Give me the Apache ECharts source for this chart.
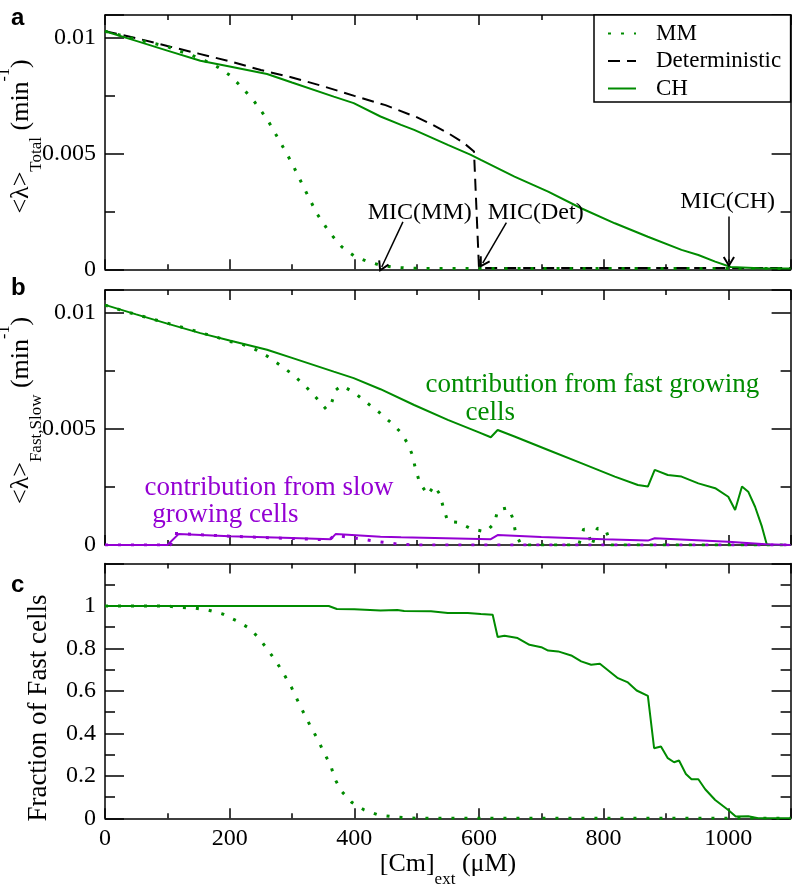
<!DOCTYPE html>
<html><head><meta charset="utf-8">
<script src="https://cdn.jsdelivr.net/npm/echarts@6/dist/echarts.min.js"></script>
<style>html,body{margin:0;padding:0;background:#fff}#c{width:792px;height:885px}</style>
</head><body><div id="c"></div>
<script>
// ---------------- DATA ----------------
// Panel a: mean growth rate (total)
const mmTotX = [0,20,40,60,80,100,120,140,160,180,200,220,240,260,280,300,320,340,360,380,400,420,440,460,480,500,600,700,800,900,1000,1100];
const mmTotY = [0.0103,0.01016,0.01002,0.00988,0.00976,0.00963,0.00943,0.00925,0.00903,0.00876,0.0084,0.00786,0.00724,0.0065,0.00556,0.00459,0.00348,0.00241,0.0016,0.00097,0.00057,0.00035,0.00019,0.0001,0.00006,0.00004,0.00003,0.00003,0.00003,0.00003,0.00003,0.00003];
const detX = [0,50,100,150,200,250,300,350,400,450,500,525,550,575,592,600,610,700,800,900,1000,1100];
const detY = [0.0103,0.01,0.00966,0.00933,0.009,0.00862,0.0083,0.00792,0.0075,0.0071,0.00658,0.00626,0.0059,0.00548,0.0051,0.00008,0.00006,0.00006,0.00006,0.00006,0.00006,0.00006];
const chTotX = [0,50,100,153,200,260,300,367,399,442,475,496,550,587,603,657,711,764,818,871,925,952,979,1004,1050,1100];
const chTotY = [0.0103,0.00988,0.00946,0.00902,0.00877,0.00845,0.00808,0.00747,0.00719,0.00661,0.00625,0.00603,0.00538,0.00495,0.00473,0.00401,0.00336,0.00264,0.00199,0.00141,0.00084,0.00062,0.00033,0.0001,0.00005,0.00004];
// Panel b: contributions from fast / slow growing cells
const chFastX = [0,50,100,153,200,260,300,367,399,442,496,550,600,619,630,657,684,711,764,818,855,871,882,903,925,952,979,1000,1011,1022,1032,1043,1054,1062,1100];
const chFastY = [0.01036,0.00995,0.00955,0.00914,0.00882,0.00842,0.00807,0.00748,0.0072,0.00672,0.00604,0.0054,0.00486,0.00465,0.00496,0.00468,0.00439,0.0041,0.00353,0.00295,0.00259,0.00252,0.00324,0.00302,0.00295,0.00266,0.00245,0.00208,0.00151,0.00252,0.0023,0.00165,0.00079,0,0];
const mmFastX = [0,20,40,60,80,100,120,140,160,180,200,220,240,260,280,300,320,340,355,362,370,380,400,420,440,460,475,485,493,498,505,518,528,537,543,550,567,588,611,625,630,647,655,659,668,760,768,775,781,790,804,812,1100];
const mmFastY = [0.01035,0.01018,0.01002,0.00987,0.00972,0.00957,0.00942,0.00927,0.00911,0.00896,0.00878,0.00866,0.00845,0.00815,0.00778,0.00738,0.0069,0.00632,0.00585,0.006,0.00668,0.00688,0.00657,0.00614,0.00572,0.00525,0.00485,0.0044,0.0039,0.0033,0.00268,0.00216,0.00256,0.0022,0.0016,0.00101,0.00098,0.00069,0.00057,0.00094,0.00151,0.00161,0.00111,0.00047,0,0,0.00069,0.00057,-0.00005,0.00072,0.00062,0,0];
const chSlowX = [0,100,118,200,300,362,370,442,475,619,630,700,800,871,882,1000,1060,1100];
const chSlowY = [0,0,0.00047,0.00038,0.0003,0.00025,0.00047,0.00036,0.00033,0.00025,0.00043,0.00035,0.00025,0.00019,0.00029,0.00014,0.00003,0];
const mmSlowX = [0,105,112,200,300,360,368,400,440,470,500,1100];
const mmSlowY = [0,0,0.0005,0.00038,0.00028,0.00022,0.00042,0.0003,0.00014,0.00004,0,0];
// Panel c: fraction of fast cells
const mmFracX = [0,100,120,144,166,189,210,231,247,261,275,287,299,309,319,330,341,351,362,369,380,396,416,438,461,480,500,1100];
const mmFracY = [1,1,0.993,0.99,0.98,0.962,0.932,0.896,0.849,0.794,0.737,0.679,0.618,0.555,0.495,0.432,0.373,0.311,0.25,0.184,0.126,0.075,0.039,0.016,0.008,0.003,0,0];
const chFracX = [0,359,372,400,442,469,480,523,550,582,603,622,630,641,662,681,700,711,727,748,764,780,794,823,839,853,871,881,892,903,913,921,932,941,952,963,979,1000,1012,1032,1048,1100];
const chFracY = [1,1,0.986,0.985,0.979,0.981,0.976,0.975,0.967,0.967,0.962,0.959,0.854,0.86,0.849,0.817,0.806,0.79,0.786,0.767,0.739,0.723,0.728,0.66,0.64,0.602,0.577,0.33,0.338,0.283,0.264,0.272,0.209,0.184,0.184,0.137,0.086,0.039,0.008,0.01,0,0];
// axes
const xMax = 1100;
const yMaxRate = 0.011;
const yMaxFrac = 1.2;
// annotations [label, x, y]
const micLabels = [['MIC(MM)',505,0.00244],['MIC(Det)',691,0.00244],['MIC(CH)',999,0.00293]];
const micArrows = [[478,0.00205,444,0.0001],[644,0.00202,606,0.00027],[1001,0.00228,1001,0.00032]];
const fastText = [['contribution from fast growing',782,0.0069],['cells',618,0.0057]];
const slowText = [['contribution from slow',263,0.00246],['growing cells',193,0.0013]];

// ---------------- CHART ----------------
const GREEN = '#008b00', PURPLE = '#9400d3', BLACK = '#000';
const SERIF = '"Liberation Serif","Times New Roman",serif';
const SANS = '"Liberation Sans",Arial,sans-serif';
const DOT = [3, 10], DASH = [12, 7];
const chart = echarts.init(document.getElementById('c'));

const grids = [
  {left:105, top:15, width:685.6, height:254.3},
  {left:105, top:290, width:685.6, height:255},
  {left:105, top:563.5, width:685.6, height:254.8}
].map(g => Object.assign(g, {containLabel:false, outerBoundsMode:'none'}));

const lineSt = {color:BLACK, width:1.5};
const xAxis = [], yAxis = [];
for (let g = 0; g < 3; g++) {
  const bx = {gridIndex:g, type:'value', min:0, max:xMax, splitLine:{show:false}};
  xAxis.push(
    Object.assign({}, bx, {position:'bottom', interval:200,
      axisLine:{show:true,onZero:false,lineStyle:lineSt},
      axisTick:{show:true,inside:true,length:10,lineStyle:lineSt},
      axisLabel:{show:g===2, margin:8, color:BLACK, fontSize:24, fontFamily:SERIF,
        formatter: v => (v >= xMax ? '' : String(v))}}),
    Object.assign({}, bx, {position:'bottom', interval:100,
      axisLine:{show:false,onZero:false}, axisTick:{show:true,inside:true,length:5,lineStyle:lineSt}, axisLabel:{show:false}}),
    Object.assign({}, bx, {position:'top', interval:200,
      axisLine:{show:true,onZero:false,lineStyle:lineSt}, axisTick:{show:true,inside:true,length:10,lineStyle:lineSt}, axisLabel:{show:false}}),
    Object.assign({}, bx, {position:'top', interval:100,
      axisLine:{show:false,onZero:false}, axisTick:{show:true,inside:true,length:5,lineStyle:lineSt}, axisLabel:{show:false}})
  );
  const isFrac = g === 2;
  const ymax = isFrac ? yMaxFrac : yMaxRate;
  const major = isFrac ? 0.2 : 0.005, minor = isFrac ? 0.1 : 0.0025;
  const by = {gridIndex:g, type:'value', min:0, max:ymax, splitLine:{show:false}};
  const fmt = isFrac
    ? (v => (v > 1.05 ? '' : String(Math.round(v * 10) / 10)))
    : (v => (v > 0.0105 ? '' : String(Math.round(v * 1000) / 1000)));
  yAxis.push(
    Object.assign({}, by, {position:'left', interval:major,
      axisLine:{show:true,onZero:false,lineStyle:lineSt}, axisTick:{show:true,inside:true,length:19,lineStyle:lineSt},
      axisLabel:{show:true, margin:9, color:BLACK, fontSize:24, fontFamily:SERIF, formatter:fmt}}),
    Object.assign({}, by, {position:'left', interval:minor,
      axisLine:{show:false,onZero:false}, axisTick:{show:true,inside:true,length:10,lineStyle:lineSt}, axisLabel:{show:false}}),
    Object.assign({}, by, {position:'right', interval:major,
      axisLine:{show:true,onZero:false,lineStyle:lineSt}, axisTick:{show:true,inside:true,length:19,lineStyle:lineSt}, axisLabel:{show:false}}),
    Object.assign({}, by, {position:'right', interval:minor,
      axisLine:{show:false,onZero:false}, axisTick:{show:true,inside:true,length:10,lineStyle:lineSt}, axisLabel:{show:false}})
  );
}

function pairs(xs, ys) { return xs.map((x, i) => [x, ys[i]]); }
function line(name, xs, ys, g, color, type, width, z) {
  return {type:'line', name, xAxisIndex:g*4, yAxisIndex:g*4, data:pairs(xs, ys),
    symbol:'none', showSymbol:false, animation:false, z:z||2,
    lineStyle:{color, width, type, cap:'butt'}, itemStyle:{color}, emphasis:{disabled:true}};
}
function textPoints(items, color, size) {
  return {silent:true, symbol:'rect', symbolSize:1, itemStyle:{color:'rgba(0,0,0,0)'},
    label:{show:true, position:'inside', formatter:'{b}', color, fontSize:size, fontFamily:SERIF},
    data: items.map(t => ({name:t[0], coord:[t[1], t[2]]}))};
}
const ARROW = 'path://M5,0 L10,9 L8.6,10 L5,3.4 L1.4,10 L0,9 Z';

const sMM = line('MM', mmTotX, mmTotY, 0, GREEN, DOT, 3, 3);
const sDet = line('Deterministic', detX, detY, 0, BLACK, DASH, 2, 2);
const sCH = line('CH', chTotX, chTotY, 0, GREEN, 'solid', 2, 4);
sDet.markLine = {silent:true, animation:false, symbol:['none', ARROW], symbolSize:[12, 11],
  label:{show:false}, lineStyle:{color:BLACK, width:1.5, type:'solid'},
  data: micArrows.map(a => [{coord:[a[0], a[1]]}, {coord:[a[2], a[3]]}])};
sDet.markPoint = textPoints(micLabels, BLACK, 24);

const sFastCH = line('CH fast', chFastX, chFastY, 1, GREEN, 'solid', 2, 4);
sFastCH.markPoint = textPoints(fastText, GREEN, 27);
const sFastMM = line('MM fast', mmFastX, mmFastY, 1, GREEN, DOT, 3, 3);
const sSlowCH = line('CH slow', chSlowX, chSlowY, 1, PURPLE, 'solid', 2, 5);
sSlowCH.markPoint = textPoints(slowText, PURPLE, 27);
const sSlowMM = line('MM slow', mmSlowX, mmSlowY, 1, PURPLE, DOT, 3, 6);

const sFracMM = line('MM frac', mmFracX, mmFracY, 2, GREEN, DOT, 3, 3);
const sFracCH = line('CH frac', chFracX, chFracY, 2, GREEN, 'solid', 2, 4);

const richT = {
  m:{fontSize:26, fontFamily:SERIF, color:BLACK, lineHeight:49},
  s:{fontSize:17, fontFamily:SERIF, color:BLACK, lineHeight:17, verticalAlign:'bottom'},
  p:{fontSize:16, fontFamily:SERIF, color:BLACK, lineHeight:28, verticalAlign:'top'}
};
function rtext(x, y, text, rot) {
  return {type:'text', x, y, rotation:rot||0, silent:true, z:10,
    style:{text, rich:richT, align:'center', verticalAlign:'middle', textAlign:'center', textVerticalAlign:'middle',
      fontSize:26, fontFamily:SERIF, fill:BLACK}};
}
function letter(x, y, t) {
  return {type:'text', x, y, silent:true, z:10,
    style:{text:t, font:'bold 24px ' + SANS, fill:BLACK, align:'left', verticalAlign:'middle', textAlign:'left', textVerticalAlign:'middle'}};
}

chart.setOption({
  animation:false,
  backgroundColor:'#fff',
  grid: grids,
  xAxis, yAxis,
  legend:{data:['MM','Deterministic','CH'], orient:'vertical', left:607, top:22, itemWidth:28, itemHeight:14, itemGap:4.5,
    padding:0, selectedMode:false, z:20, itemStyle:{opacity:0},
    textStyle:{fontSize:23, fontFamily:SERIF, color:BLACK, padding:[0,0,0,15], lineHeight:22}},
  graphic:[
    {type:'rect', shape:{x:594, y:15, width:196.6, height:87}, style:{fill:'#fff', stroke:BLACK, lineWidth:1.5}, z:15, silent:true},
    letter(11, 18, 'a'), letter(11, 288.5, 'b'), letter(11, 585.5, 'c'),
    rtext(21, 136.5, '{m|<λ>}{s|Total}{m| (min}{p|-1}{m|)}', Math.PI/2),
    rtext(21, 410.5, '{m|<λ>}{s|Fast,Slow}{m| (min}{p|-1}{m|)}', Math.PI/2),
    {type:'text', x:38.5, y:708, rotation:Math.PI/2, silent:true, z:10,
      style:{text:'Fraction of Fast cells', fontSize:27, fontFamily:SERIF, fill:BLACK, align:'center', verticalAlign:'middle', textAlign:'center', textVerticalAlign:'middle'}},
    rtext(448, 864, '{m|[Cm]}{s|ext}{m| (μM)}', 0)
  ],
  series:[sDet, sMM, sCH, sFastMM, sFastCH, sSlowCH, sSlowMM, sFracMM, sFracCH]
});
</script></body></html>
